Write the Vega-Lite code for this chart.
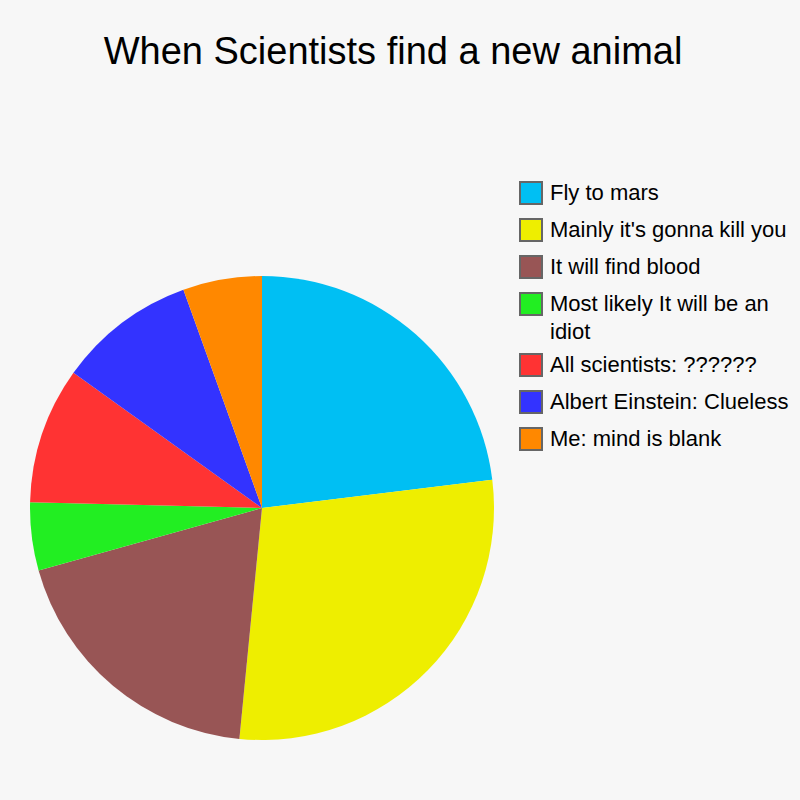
{
  "$schema": "https://vega.github.io/schema/vega-lite/v6.json",
  "width": 464,
  "height": 464,
  "autosize": {"type": "none"},
  "padding": {"left": 30, "top": 276, "right": 306, "bottom": 60},
  "background": "#f7f7f7",
  "config": {"style": {"guide-label": {"lineHeight": 28}}},
  "title": {
    "text": "When Scientists find a new animal",
    "font": "Liberation Sans",
    "fontSize": 38,
    "fontWeight": "normal",
    "color": "#000000",
    "anchor": "middle",
    "frame": "group",
    "dx": 131,
    "offset": 109
  },
  "data": {
    "values": [
      {"label": "Fly to mars", "value": 23.06, "idx": 1},
      {"label": "Mainly it's gonna kill you", "value": 28.5, "idx": 2},
      {"label": "It will find blood", "value": 19.1, "idx": 3},
      {"label": "Most likely It will be an idiot", "value": 4.75, "idx": 4},
      {"label": "All scientists: ??????", "value": 9.5, "idx": 5},
      {"label": "Albert Einstein: Clueless", "value": 9.6, "idx": 6},
      {"label": "Me: mind is blank", "value": 5.5, "idx": 7}
    ]
  },
  "mark": {"type": "arc", "stroke": null},
  "encoding": {
    "theta": {"field": "value", "type": "quantitative", "stack": true},
    "order": {"field": "idx", "type": "quantitative"},
    "color": {
      "field": "label",
      "type": "nominal",
      "scale": {
        "domain": ["Fly to mars", "Mainly it's gonna kill you", "It will find blood", "Most likely It will be an idiot", "All scientists: ??????", "Albert Einstein: Clueless", "Me: mind is blank"],
        "range": ["#00bff3", "#eeee00", "#985555", "#22ee22", "#ff3333", "#3333ff", "#ff8800"]
      },
      "legend": {
        "title": null,
        "orient": "none",
        "legendX": 489,
        "legendY": -95,
        "symbolType": "square",
        "symbolSize": 484,
        "symbolStrokeColor": "#666666",
        "symbolStrokeWidth": 2,
        "symbolOpacity": 1,
        "labelFont": "Liberation Sans",
        "labelFontSize": 22,
        "labelColor": "#000000",
        "labelOffset": 7,
        "labelLimit": 400,
        "rowPadding": 7,
        "labelExpr": "datum.label == 'Most likely It will be an idiot' ? ['Most likely It will be an', 'idiot'] : datum.label"
      }
    }
  }
}
